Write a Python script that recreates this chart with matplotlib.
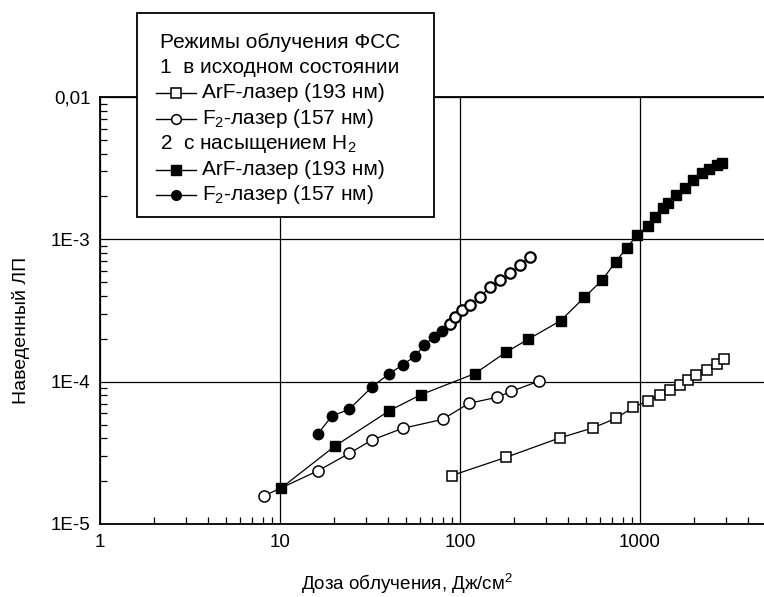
import matplotlib
matplotlib.use("Agg")
import matplotlib.pyplot as plt
from matplotlib.lines import Line2D
from matplotlib.patches import Rectangle
from matplotlib.ticker import FixedLocator, FixedFormatter, LogLocator, NullFormatter

plt.rcParams['font.family'] = ['Liberation Sans', 'DejaVu Sans']
plt.rcParams['mathtext.fontset'] = 'custom'
plt.rcParams['mathtext.rm'] = 'Liberation Sans'
plt.rcParams['mathtext.it'] = 'Liberation Sans:italic'

# ArF laser, initial state (open squares)
arf0_dose = [90, 180, 359, 550, 733, 918, 1112, 1292, 1470, 1668, 1853, 2046, 2345, 2666, 2929]
arf0_loss = [2.19e-5, 2.94e-5, 4.03e-5, 4.74e-5, 5.52e-5, 6.6e-5, 7.35e-5, 8.05e-5,
             8.7e-5, 9.46e-5, 1.03e-4, 1.11e-4, 1.21e-4, 1.33e-4, 1.44e-4]

# F2 laser, initial state (open circles)
f20_dose = [8.1, 16.3, 24.2, 32.4, 48, 80, 112, 160, 193, 275]
f20_loss = [1.57e-5, 2.37e-5, 3.13e-5, 3.89e-5, 4.70e-5, 5.43e-5, 7.04e-5, 7.76e-5, 8.55e-5, 1.01e-4]

# ArF laser, H2 loaded (filled squares)
arf1_dose = [10.1, 20.2, 40.5, 60.5, 121, 180, 240, 362, 491, 617, 733, 844, 966, 1102,
             1211, 1349, 1436, 1585, 1778, 1977, 2198, 2420, 2666, 2863]
arf1_loss = [1.78e-5, 3.53e-5, 6.25e-5, 8.09e-5, 1.14e-4, 1.61e-4, 1.99e-4, 2.68e-4, 3.91e-4,
             5.18e-4, 6.96e-4, 8.73e-4, 1.07e-3, 1.24e-3, 1.44e-3, 1.65e-3, 1.79e-3, 2.05e-3,
             2.28e-3, 2.61e-3, 2.91e-3, 3.1e-3, 3.33e-3, 3.45e-3]

# F2 laser, H2 loaded (filled circles)
f21_dose = [16.2, 19.4, 24.2, 32.5, 40.5, 48, 56.2, 63.4, 71.7, 79.1, 88, 93.8, 102, 114,
            129, 147, 167, 190, 215, 245]
f21_loss = [4.28e-5, 5.73e-5, 6.39e-5, 9.2e-5, 1.14e-4, 1.31e-4, 1.51e-4, 1.81e-4, 2.07e-4,
            2.27e-4, 2.54e-4, 2.83e-4, 3.18e-4, 3.45e-4, 3.95e-4, 4.6e-4, 5.18e-4, 5.77e-4,
            6.6e-4, 7.55e-4]
f21_solid = 10  # points after this look hollow in the scan

x_ticks = [1, 10, 100, 1000]
x_labels = ['1', '10', '100', '1000']
y_ticks = [1e-5, 1e-4, 1e-3, 1e-2]
y_labels = ['1E-5', '1E-4', '1E-3', '0,01']

W, H = 764, 597
fig = plt.figure(figsize=(W / 100, H / 100), dpi=100)


def fx(px):
    return px / W


def fy(py):
    return 1 - py / H


ax = fig.add_axes([fx(100), fy(524), (765.8 - 100) / W, (524 - 97) / H])
ax.set_xscale('log')
ax.set_yscale('log')
ax.set_xlim(1, 5000)
ax.set_ylim(1e-5, 1e-2)

lw = 0.9
ax.plot(arf0_dose, arf0_loss, color='black', lw=lw, marker='s', ms=7, mfc='white', mec='black', mew=1.1)
ax.plot(f20_dose, f20_loss, color='black', lw=lw, marker='o', ms=8, mfc='white', mec='black', mew=1.1)
ax.plot(arf1_dose, arf1_loss, color='black', lw=lw, marker='s', ms=7, mfc='black', mec='black')
ax.plot(f21_dose[:f21_solid + 1], f21_loss[:f21_solid + 1], color='black', lw=lw,
        marker='o', ms=7.5, mfc='black', mec='black')
ax.plot(f21_dose[f21_solid:], f21_loss[f21_solid:], color='black', lw=lw,
        marker='o', ms=7.5, mfc='white', mec='black', mew=1.6)

ax.xaxis.set_major_locator(FixedLocator(x_ticks))
ax.xaxis.set_major_formatter(FixedFormatter(x_labels))
ax.yaxis.set_major_locator(FixedLocator(y_ticks))
ax.yaxis.set_major_formatter(FixedFormatter(y_labels))
ax.xaxis.set_minor_locator(LogLocator(base=10, subs=range(2, 10)))
ax.yaxis.set_minor_locator(LogLocator(base=10, subs=range(2, 10)))
ax.xaxis.set_minor_formatter(NullFormatter())
ax.yaxis.set_minor_formatter(NullFormatter())
ax.tick_params(which='both', direction='in', top=False, right=False, labelsize=13.5, color='black')
ax.tick_params(which='major', length=0, pad=7)
ax.tick_params(which='minor', length=5, width=0.9)
ax.grid(True, which='major', color='black', lw=0.9)
for side in ['left', 'bottom', 'top']:
    ax.spines[side].set_linewidth(1.3)
ax.spines['right'].set_visible(False)

ax.set_xlabel('Доза облучения, Дж/см$^2$', fontsize=13.5)
ax.xaxis.set_label_coords((407 - 100) / (765.8 - 100), -(572 - 524) / (524 - 97))
ax.set_ylabel('Наведенный ЛП', fontsize=14)
ax.yaxis.set_label_coords(-(100 - 30) / (765.8 - 100), (524 - 330) / (524 - 97))

# hand-drawn legend box like in the source figure
fig.add_artist(Rectangle((fx(137), fy(217)), (434 - 137) / W, (217 - 13) / H,
                         transform=fig.transFigure, facecolor='white', edgecolor='black', lw=1.3, zorder=5))
legend_rows = [
    (None, 'Режимы облучения ФСС'),
    (None, '1  в исходном состоянии'),
    (dict(marker='s', ms=7, mfc='white', mew=1.1), 'ArF-лазер (193 нм)'),
    (dict(marker='o', ms=7, mfc='white', mew=1.1), 'F$_2$-лазер (157 нм)'),
    (None, '2  с насыщением H$_2$'),
    (dict(marker='s', ms=7, mfc='black'), 'ArF-лазер (193 нм)'),
    (dict(marker='o', ms=7, mfc='black'), 'F$_2$-лазер (157 нм)'),
]
row_y = 42
for style, label in legend_rows:
    if style is None:
        fig.text(fx(160), fy(row_y), label, fontsize=15, va='center', ha='left', zorder=6)
    else:
        fig.add_artist(Line2D([fx(156), fx(196)], [fy(row_y), fy(row_y)], transform=fig.transFigure,
                              color='black', lw=1.0, zorder=6))
        fig.add_artist(Line2D([fx(176)], [fy(row_y)], transform=fig.transFigure, color='black',
                              ls='none', mec='black', zorder=7, **style))
        fig.text(fx(202), fy(row_y), label, fontsize=15, va='center', ha='left', zorder=6)
    row_y += 25.5

fig.savefig('out.png', dpi=100)
